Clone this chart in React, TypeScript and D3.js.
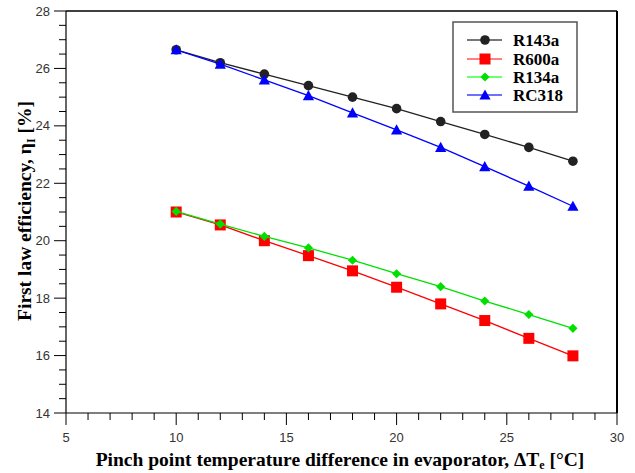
import React from "react";
import * as d3 from "d3";

const xValues = [10, 12, 14, 16, 18, 20, 22, 24, 26, 28];
const r143a = [26.65, 26.2, 25.8, 25.4, 25.0, 24.6, 24.15, 23.7, 23.25, 22.77];
const r600a = [21.0, 20.55, 20.0, 19.48, 18.95, 18.38, 17.8, 17.22, 16.6, 15.99];
const r134a = [21.02, 20.58, 20.15, 19.75, 19.32, 18.85, 18.4, 17.9, 17.43, 16.95];
const rc318 = [26.65, 26.15, 25.6, 25.05, 24.45, 23.86, 23.25, 22.58, 21.9, 21.2];
const xTicks = [5, 10, 15, 20, 25, 30];
const yTicks = [14, 16, 18, 20, 22, 24, 26, 28];

const series = [
  { name: "R143a", values: r143a, color: "#222222", legendColor: "#777777", marker: "circle" },
  { name: "R600a", values: r600a, color: "#ff0000", legendColor: "#ff8080", marker: "square" },
  { name: "R134a", values: r134a, color: "#00e000", legendColor: "#70ff70", marker: "diamond" },
  { name: "RC318", values: rc318, color: "#0000ff", legendColor: "#7070ff", marker: "triangle" },
];

const W = 635, H = 473;
const L = 66, R = 617, T = 11, B = 413;

function Marker({ type, x, y, color }: { type: string; x: number; y: number; color: string }) {
  if (type === "circle") return <circle cx={x} cy={y} r={4.8} fill={color} />;
  if (type === "square") return <rect x={x - 5.5} y={y - 5.5} width={11} height={11} fill={color} />;
  if (type === "diamond") {
    const s = 4.6;
    return <path d={`M${x},${y - s}L${x + s},${y}L${x},${y + s}L${x - s},${y}Z`} fill={color} />;
  }
  const s = 5.6;
  return <path d={`M${x},${y - s}L${x + s},${y + s - 1}L${x - s},${y + s - 1}Z`} fill={color} />;
}

export default function App() {
  const x = d3.scaleLinear().domain([5, 30]).range([L, R]);
  const y = d3.scaleLinear().domain([14, 28]).range([B, T]);
  const line = d3.line<number>().x((_, i) => x(xValues[i])).y((d) => y(d));
  const xMinor = d3.range(5, 31, 1).filter((v) => v % 5 !== 0);
  const yMinor = d3.range(14, 28.01, 0.5).filter((v) => v % 2 !== 0);
  const tickFont = "'Liberation Sans', Arial, sans-serif";
  const titleFont = "'Liberation Serif', 'Times New Roman', serif";
  const legendRows = [40, 59, 77, 95];

  return (
    <svg width={W} height={H} style={{ position: "absolute", left: 0, top: 0, background: "#fff" }}>
      <rect x={0} y={0} width={W} height={H} fill="#fff" />
      {/* frame */}
      <line x1={L} y1={T} x2={R} y2={T} stroke="#000" strokeWidth={1.5} />
      <line x1={R} y1={T} x2={R} y2={B} stroke="#000" strokeWidth={2} />
      <line x1={L} y1={T} x2={L} y2={B} stroke="#000" strokeWidth={1.2} />
      <line x1={L} y1={B} x2={R} y2={B} stroke="#000" strokeWidth={1.2} />
      {/* y ticks */}
      {yTicks.map((v) => (
        <g key={"yt" + v}>
          <line x1={L - 12} x2={L} y1={y(v)} y2={y(v)} stroke="#000" strokeWidth={1} />
          <text x={L - 16} y={y(v) + 4.5} textAnchor="end" fontFamily={tickFont} fontSize={13} fill="#333">
            {v}
          </text>
        </g>
      ))}
      {yMinor.map((v) => (
        <line key={"ym" + v} x1={L - 7} x2={L} y1={y(v)} y2={y(v)} stroke="#000" strokeWidth={1} />
      ))}
      {/* x ticks */}
      {xTicks.map((v) => (
        <g key={"xt" + v}>
          <line x1={x(v)} x2={x(v)} y1={B} y2={B + 12} stroke="#000" strokeWidth={1} />
          <text x={x(v)} y={B + 29} textAnchor="middle" fontFamily={tickFont} fontSize={13} fill="#333">
            {v}
          </text>
        </g>
      ))}
      {xMinor.map((v) => (
        <line key={"xm" + v} x1={x(v)} x2={x(v)} y1={B} y2={B + 7} stroke="#000" strokeWidth={1} />
      ))}
      {/* series */}
      {series.map((s) => (
        <g key={s.name}>
          <path d={line(s.values) || ""} fill="none" stroke={s.color} strokeWidth={1.3} />
          {s.values.map((v, i) => (
            <Marker key={i} type={s.marker} x={x(xValues[i])} y={y(v)} color={s.color} />
          ))}
        </g>
      ))}
      {/* legend */}
      <rect x={453} y={22} width={124} height={90} fill="#fff" stroke="#555" strokeWidth={1.5} />
      {series.map((s, i) => (
        <g key={"lg" + s.name}>
          <line x1={467} x2={502} y1={legendRows[i]} y2={legendRows[i]} stroke={s.legendColor} strokeWidth={2} />
          <Marker type={s.marker} x={485} y={legendRows[i]} color={s.color} />
          <text x={513} y={legendRows[i] + 5.5} fontFamily={titleFont} fontWeight="bold" fontSize={17} fill="#000">
            {s.name}
          </text>
        </g>
      ))}
      {/* axis titles */}
      <text
        transform={`translate(31,211) rotate(-90)`}
        textAnchor="middle"
        fontFamily={titleFont}
        fontWeight="bold"
        fontSize={19.5}
        fill="#000"
      >
        First law efficiency, η
        <tspan fontSize={12} dy={4}>I</tspan>
        <tspan dy={-4}> [%]</tspan>
      </text>
      <text x={340} y={466} textAnchor="middle" fontFamily={titleFont} fontWeight="bold" fontSize={19.5} fill="#000">
        Pinch point temperature difference in evaporator, ΔT
        <tspan fontSize={12} dy={3}>e</tspan>
        <tspan dy={-3}> [°C]</tspan>
      </text>
    </svg>
  );
}
